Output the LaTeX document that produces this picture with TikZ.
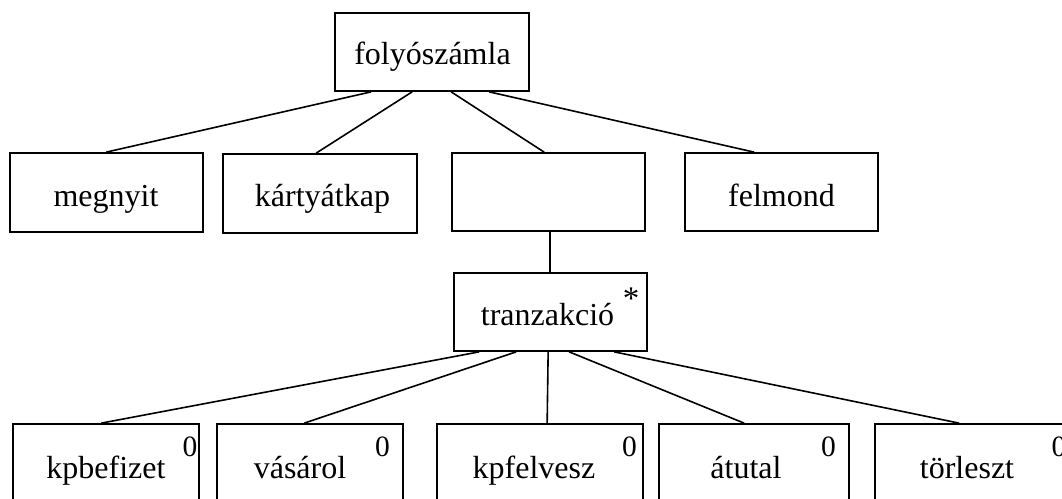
\documentclass[tikz,border=0pt]{standalone}
\usepackage{fontspec}
\setmainfont{Liberation Serif}
\begin{document}
\begin{tikzpicture}[x=1pt,y=-1pt,
  box/.style={draw, line width=1.7pt, inner sep=0pt},
  lbl/.style={anchor=base, inner sep=0pt, font=\fontsize{32}{36}\selectfont},
  supl/.style={anchor=base, inner sep=0pt, font=\fontsize{29.5}{32}\selectfont},
  conn/.style={line width=1.6pt}]
\useasboundingbox (0,0) rectangle (1062,498);
\clip (0,0) rectangle (1062,498);
% boxes
\node[box, minimum width=194pt, minimum height=78pt] (top) at (432,52) {};
\node[box, minimum width=193pt, minimum height=79pt] (megnyit) at (106.5,192.5) {};
\node[box, minimum width=194pt, minimum height=79pt] (kartya) at (320,193.5) {};
\node[box, minimum width=193pt, minimum height=78pt] (blank) at (548.5,192) {};
\node[box, minimum width=193pt, minimum height=78pt] (felmond) at (781.5,192) {};
\node[box, minimum width=193pt, minimum height=78pt] (tranz) at (550.5,312) {};
\node[box, minimum width=186pt, minimum height=78pt] (kpbe) at (106,463) {};
\node[box, minimum width=186pt, minimum height=78pt] (vas) at (310,463) {};
\node[box, minimum width=206pt, minimum height=78pt] (kpfel) at (540,463) {};
\node[box, minimum width=190pt, minimum height=78pt] (atutal) at (754,463) {};
\node[box, minimum width=190pt, minimum height=78pt] (torl) at (970,463) {};
% labels
\node[lbl] (t-top) at (432.5,64) {folyószámla};
\node[lbl] (t-megnyit) at (106,206.5) {megnyit};
\node[lbl] (t-kartya) at (322.5,206.5) {kártyátkap};
\node[lbl] (t-felmond) at (781.5,206) {felmond};
\node[lbl] (t-tranz) at (547.5,325.5) {tranzakció};
\node[supl, font=\fontsize{33}{36}\selectfont] (ast) at (631,309) {*};
\node[lbl] (t-kpbe) at (106,478) {kpbefizet};
\node[lbl] (t-vas) at (300,478) {vásárol};
\node[lbl] (t-kpfel) at (534,478) {kpfelvesz};
\node[lbl] (t-atutal) at (746,478) {átutal};
\node[lbl] (t-torl) at (967,478) {törleszt};
\node[supl] (z1) at (190,456.5) {0};
\node[supl] (z2) at (382.5,456.5) {0};
\node[supl] (z3) at (629.5,456.5) {0};
\node[supl] (z4) at (828.5,456.5) {0};
\node[supl] (z5) at (1059,456.5) {0};
% connectors
\draw[conn] ([xshift=37pt]top.south west) -- ([xshift=97pt]megnyit.north west);
\draw[conn] ([xshift=78pt]top.south west) -- ([xshift=94pt]kartya.north west);
\draw[conn] ([xshift=117pt]top.south west) -- ([xshift=93pt]blank.north west);
\draw[conn] ([xshift=155pt]top.south west) -- ([xshift=70pt]felmond.north west);
\draw[conn] ([xshift=99pt]blank.south west) -- ([xshift=97pt]tranz.north west);
\draw[conn] ([xshift=26pt]tranz.south west) -- ([xshift=89pt]kpbe.north west);
\draw[conn] ([xshift=63pt]tranz.south west) -- ([xshift=88pt]vas.north west);
\draw[conn] ([xshift=95pt]tranz.south west) -- ([xshift=111pt]kpfel.north west);
\draw[conn] ([xshift=116pt]tranz.south west) -- ([xshift=86pt]atutal.north west);
\draw[conn] ([xshift=161pt]tranz.south west) -- ([xshift=85pt]torl.north west);
\end{tikzpicture}
\end{document}
